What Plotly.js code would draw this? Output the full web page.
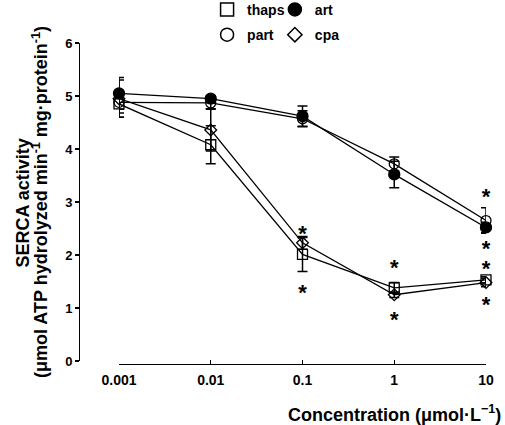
<!DOCTYPE html>
<html><head><meta charset="utf-8">
<script src="https://cdn.plot.ly/plotly-3.0.1.min.js"></script>
<style>html,body{margin:0;padding:0;background:#fff}</style>
</head><body>
<div id="chart" style="width:505px;height:425px"></div>
<script>
// Data
const conc = [0.001, 0.01, 0.1, 1, 10];
const concTicks = ['0.001', '0.01', '0.1', '1', '10'];
const thaps = [4.85, 4.08, 2.01, 1.38, 1.53];
const thapsErr = [0.25, 0.36, 0.32, 0.10, 0.06];
const part = [4.88, 4.87, 4.57, 3.72, 2.65];
const partErr = [0.20, 0.12, 0.15, 0.13, 0.24];
const art = [5.05, 4.95, 4.62, 3.52, 2.52];
const artErr = [0.30, 0.05, 0.19, 0.25, 0.10];
const cpa = [4.95, 4.36, 2.23, 1.25, 1.48];
const cpaErr = [0.35, 0.40, 0.12, 0.05, 0.08];
// significance asterisks (text anchor positions)
const starX = [0.1, 0.1, 1, 1, 10, 10, 10, 10];
const starY = [2.37, 1.26, 1.73, 0.75, 3.07, 2.09, 1.71, 1.02];
const names = ['thaps', 'part', 'art', 'cpa'];

const FONT = 'Liberation Sans, Arial, sans-serif';
function series(name, y, err, symbol, size) {
  return {
    x: conc, y: y, type: 'scatter', mode: 'lines+markers', name: name,
    showlegend: false, cliponaxis: false,
    line: {color: '#000', width: 1.3},
    marker: {symbol: symbol, size: size, color: '#000', line: {color: '#000', width: 1.3}},
    error_y: {type: 'data', array: err, visible: true, color: '#000', thickness: 1.5, width: 5}
  };
}
function legendItem(name, symbol, size, legend) {
  return {
    x: [null], y: [null], type: 'scatter', mode: 'markers', name: name, legend: legend,
    legendgroup: name,
    marker: {symbol: symbol, size: size, color: '#000', line: {color: '#000', width: 1.5}}
  };
}
const traces = [
  series(names[1], part, partErr, 'circle-open', 10),
  series(names[2], art, artErr, 'circle', 11),
  series(names[3], cpa, cpaErr, 'diamond-open', 9),
  series(names[0], thaps, thapsErr, 'square-open', 10),
  {x: starX, y: starY, type: 'scatter', mode: 'text', text: starX.map(() => '*'),
   textposition: 'middle center', showlegend: false, cliponaxis: false,
   textfont: {family: FONT, size: 22, color: '#000'}, hoverinfo: 'skip'},
  legendItem(names[0], 'square-open', 13, 'legend'),
  legendItem(names[1], 'circle-open', 13, 'legend'),
  legendItem(names[2], 'circle', 13, 'legend2'),
  legendItem(names[3], 'diamond-open', 11, 'legend2')
];

const legendCommon = {
  orientation: 'v', xanchor: 'left', yanchor: 'top', bgcolor: 'rgba(0,0,0,0)',
  font: {family: FONT, size: 14, color: '#000', weight: 'bold'}, tracegroupgap: 4
};
const layout = {
  width: 505, height: 425,
  margin: {l: 119, r: 19, t: 43, b: 61, autoexpand: false},
  paper_bgcolor: '#fff', plot_bgcolor: '#fff',
  font: {family: FONT, color: '#000', weight: 'bold'},
  xaxis: {
    type: 'log', range: [-3, 1], tickvals: conc, ticktext: concTicks,
    showgrid: false, zeroline: false, showline: true, linecolor: '#000', linewidth: 1.3,
    ticks: 'inside', ticklen: 4, tickwidth: 1.3, tickcolor: '#000',
    tickfont: {family: FONT, size: 14, weight: 'bold'}, ticklabelstandoff: 3,
    anchor: 'free', position: 0
  },
  yaxis: {
    range: [0, 6], domain: [0.0094, 1], dtick: 1,
    showgrid: false, zeroline: false, showline: true, linecolor: '#000', linewidth: 1.3,
    ticks: 'outside', ticklen: 4, tickwidth: 1.3, tickcolor: '#000',
    tickfont: {family: FONT, size: 13, weight: 'bold'},
    anchor: 'free', position: 0, shift: -40,
    title: {text: '(μmol ATP hydrolyzed min<sup>-1</sup> mg·protein<sup>-1</sup>)',
            font: {family: FONT, size: 18, weight: 'bold'}, standoff: 11}
  },
  legend: Object.assign({}, legendCommon, {x: 0.24, y: 1.153}),
  legend2: Object.assign({}, legendCommon, {x: 0.4247, y: 1.153}),
  annotations: [{
    text: 'Concentration (μmol·L<sup>−1</sup>)', xref: 'paper', yref: 'paper',
    x: 1.046, y: -0.153, xanchor: 'right', yanchor: 'middle', showarrow: false,
    font: {family: FONT, size: 18, color: '#000', weight: 'bold'}
  }, {
    text: 'SERCA activity', xref: 'paper', yref: 'paper', textangle: -90,
    x: (22 - 119) / 367, y: 0.5, xanchor: 'center', yanchor: 'middle', showarrow: false,
    font: {family: FONT, size: 18, color: '#000', weight: 'bold'}
  }],
  showlegend: true
};
Plotly.newPlot('chart', traces, layout, {displayModeBar: false, staticPlot: true});
</script>
</body></html>
